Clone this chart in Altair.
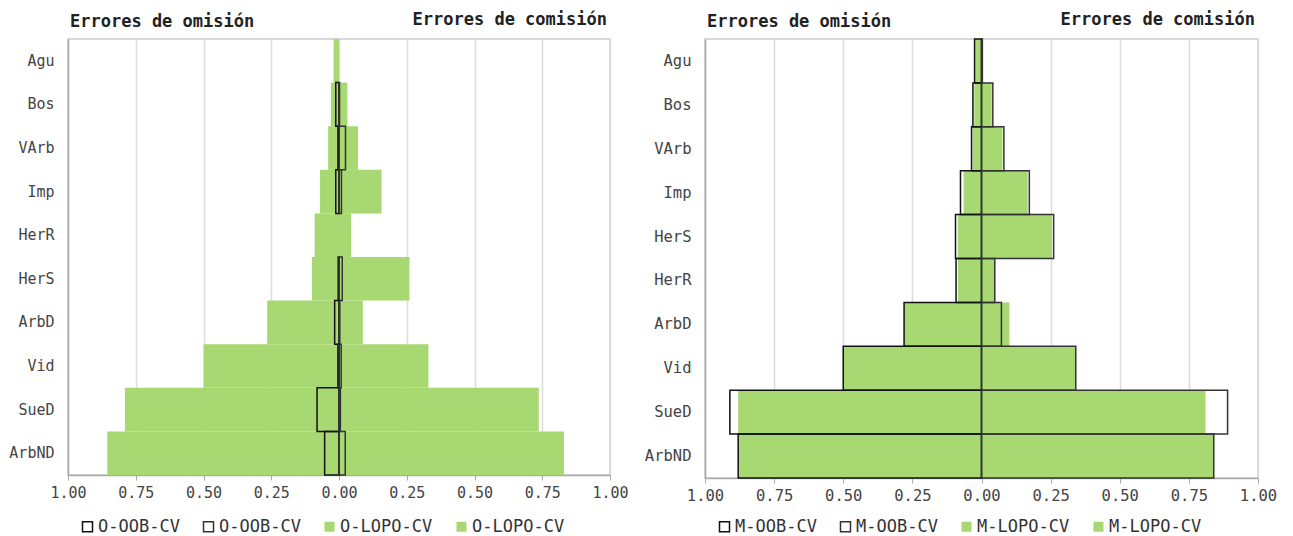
import altair as alt
import pandas as pd

MONO = "DejaVu Sans Mono"

# ---------------- data ----------------
cats_O = ["Agu", "Bos", "VArb", "Imp", "HerR", "HerS", "ArbD", "Vid", "SueD", "ArbND"]
oob_om_O = [0.0, 0.012, 0.004, 0.012, 0.0, 0.003, 0.016, 0.004, 0.081, 0.053]
oob_com_O = [0.0, 0.002, 0.024, 0.009, 0.0, 0.012, 0.003, 0.008, 0.005, 0.023]
lopo_om_O = [0.02, 0.03, 0.04, 0.07, 0.09, 0.10, 0.265, 0.50, 0.79, 0.855]
lopo_com_O = [0.0, 0.031, 0.07, 0.157, 0.045, 0.26, 0.088, 0.33, 0.737, 0.83]
legend_O = ["O-OOB-CV", "O-OOB-CV", "O-LOPO-CV", "O-LOPO-CV"]

cats_M = ["Agu", "Bos", "VArb", "Imp", "HerS", "HerR", "ArbD", "Vid", "SueD", "ArbND"]
oob_om_M = [0.025, 0.031, 0.036, 0.076, 0.094, 0.092, 0.28, 0.50, 0.91, 0.88]
oob_com_M = [0.003, 0.041, 0.081, 0.173, 0.261, 0.048, 0.072, 0.341, 0.89, 0.84]
lopo_om_M = [0.022, 0.026, 0.032, 0.065, 0.086, 0.085, 0.28, 0.50, 0.88, 0.88]
lopo_com_M = [0.003, 0.037, 0.076, 0.167, 0.255, 0.046, 0.101, 0.34, 0.81, 0.84]
legend_M = ["M-OOB-CV", "M-OOB-CV", "M-LOPO-CV", "M-LOPO-CV"]

title_om = "Errores de omisión"
title_com = "Errores de comisión"
x_ticks = [-1.0, -0.75, -0.5, -0.25, 0.0, 0.25, 0.5, 0.75, 1.0]

GREEN = "#a8d872"


def build_df(cats, oob_om, oob_com, lopo_om, lopo_com, keys):
    rows = []
    for i, c in enumerate(cats):
        rows.append({"cat": c, "key": keys[0], "kind": "OOB", "v": -oob_om[i]})
        rows.append({"cat": c, "key": keys[1], "kind": "OOB", "v": oob_com[i]})
        rows.append({"cat": c, "key": keys[2], "kind": "LOPO", "v": -lopo_om[i]})
        rows.append({"cat": c, "key": keys[3], "kind": "LOPO", "v": lopo_com[i]})
    return pd.DataFrame(rows)


def panel(cats, oob_om, oob_com, lopo_om, lopo_com, legend_labels, w, h,
          label_size, leg_y):
    keys = [f"{lab}|{i}" for i, lab in enumerate(legend_labels)]
    df = build_df(cats, oob_om, oob_com, lopo_om, lopo_com, keys)

    x_enc = alt.X(
        "v:Q",
        stack=None,
        title=None,
        scale=alt.Scale(domain=[-1, 1], nice=False, zero=False),
        axis=alt.Axis(
            values=x_ticks,
            labelExpr="format(abs(datum.value), '.2f')",
            labelFlush=False,
            grid=True,
            gridColor="#dcdcdc",
            gridWidth=1.5,
            domainColor="#aaaaaa",
            domainWidth=1.5,
            tickColor="#aaaaaa",
            tickSize=5,
            labelFont=MONO,
            labelFontSize=label_size,
            labelColor="#444444",
            labelPadding=5,
        ),
    )
    y_enc = alt.Y(
        "cat:N",
        sort=cats,
        title=None,
        scale=alt.Scale(paddingInner=0, paddingOuter=0),
        axis=alt.Axis(
            ticks=False,
            grid=False,
            domainColor="#aaaaaa",
            domainWidth=1.5,
            labelFont=MONO,
            labelFontSize=label_size,
            labelColor="#444444",
            labelPadding=14,
        ),
    )
    leg = alt.Legend(
        orient="none",
        legendX=11,
        legendY=leg_y,
        direction="horizontal",
        columns=4,
        title=None,
        symbolType="square",
        symbolSize=100,
        symbolStrokeWidth=1.5,
        labelFont=MONO,
        labelFontSize=17,
        labelColor="#333333",
        labelExpr="split(datum.label, '|')[0]",
        columnPadding=20,
        labelOffset=2,
        padding=0,
    )
    fill_enc = alt.Fill(
        "key:N",
        scale=alt.Scale(domain=keys, range=["transparent", "transparent", GREEN, GREEN]),
        legend=leg,
    )
    stroke_enc = alt.Stroke(
        "key:N",
        scale=alt.Scale(domain=keys, range=["#111111", "#333333", "transparent", "transparent"]),
        legend=leg,
    )

    base = alt.Chart(df)
    green = base.transform_filter("datum.kind == 'LOPO' && datum.v != 0").mark_bar(
        strokeWidth=0
    ).encode(x=x_enc, y=y_enc, fill=fill_enc, stroke=stroke_enc)
    oob = base.transform_filter("datum.kind == 'OOB' && datum.v != 0").mark_bar(
        strokeWidth=1.5
    ).encode(x=x_enc, y=y_enc, fill=fill_enc, stroke=stroke_enc)

    t_left = alt.Chart(pd.DataFrame({"t": [title_om]})).mark_text(
        align="left", baseline="alphabetic", font=MONO, fontSize=17,
        fontWeight="bold", color="#222222", dx=2
    ).encode(x=alt.datum(-1), y=alt.value(-12), text="t:N")
    t_right = alt.Chart(pd.DataFrame({"t": [title_com]})).mark_text(
        align="right", baseline="alphabetic", font=MONO, fontSize=17,
        fontWeight="bold", color="#222222", dx=-3
    ).encode(x=alt.datum(1), y=alt.value(-14), text="t:N")

    return alt.layer(green, oob, t_left, t_right).properties(width=w, height=h)


left = panel(cats_O, oob_om_O, oob_com_O, lopo_om_O, lopo_com_O, legend_O,
             542, 436, 15, 479)
right = panel(cats_M, oob_om_M, oob_com_M, lopo_om_M, lopo_com_M, legend_M,
              553, 439, 15.5, 479)

chart = alt.hconcat(left, right, spacing=14).resolve_scale(
    x="independent", y="independent", fill="independent", stroke="independent"
).resolve_legend(
    fill="independent", stroke="independent"
).properties(
    padding={"left": 0, "top": 2, "right": 0, "bottom": 0}
).configure_view(
    stroke="#cccccc", strokeWidth=1.5
)

chart.save("out.html", embed_options={"renderer": "svg", "actions": False})
